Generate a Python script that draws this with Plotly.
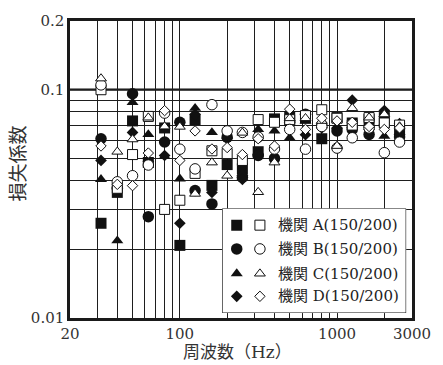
import numpy as np
import plotly.graph_objects as go

freq = [31.5, 40, 50, 63, 80, 100, 125, 160, 200, 250, 315, 400, 500, 630, 800, 1000, 1250, 1600, 2000, 2500]

A_150 = [0.026, 0.0355, 0.073, 0.048, 0.068, 0.0208, 0.074, 0.0381, 0.047, 0.045, 0.0535, 0.0745, 0.076, 0.075, 0.061, 0.0755, 0.0715, 0.074, 0.0755, 0.066]
A_200 = [0.1, 0.037, 0.052, 0.0764, 0.0299, 0.0328, 0.043, 0.054, 0.0525, 0.049, 0.074, 0.072, 0.0739, 0.077, 0.0817, 0.075, 0.07, 0.0755, 0.0715, 0.07]
B_150 = [0.061, 0.037, 0.096, 0.0278, 0.059, 0.072, 0.0362, 0.0316, 0.062, 0.0414, 0.0515, 0.05, 0.072, 0.078, 0.07, 0.066, 0.067, 0.0637, 0.07, 0.062]
B_200 = [0.105, 0.0395, 0.042, 0.0468, 0.079, 0.0549, 0.045, 0.086, 0.066, 0.065, 0.062, 0.055, 0.067, 0.0549, 0.069, 0.0555, 0.0616, 0.068, 0.053, 0.059]
C_150 = [0.0405, 0.0218, 0.088, 0.0637, 0.051, 0.0407, 0.083, 0.065, 0.063, 0.043, 0.067, 0.066, 0.0616, 0.073, 0.07, 0.069, 0.07, 0.07, 0.0626, 0.065]
C_200 = [0.112, 0.0535, 0.0606, 0.0755, 0.069, 0.0688, 0.035, 0.048, 0.042, 0.0648, 0.0356, 0.048, 0.075, 0.075, 0.073, 0.0567, 0.083, 0.0755, 0.078, 0.069]
D_150 = [0.049, 0.0375, 0.065, 0.0485, 0.0515, 0.026, 0.078, 0.0355, 0.061, 0.0405, 0.052, 0.05, 0.07, 0.0635, 0.068, 0.068, 0.09, 0.067, 0.081, 0.071]
D_200 = [0.0567, 0.0385, 0.038, 0.0528, 0.081, 0.049, 0.066, 0.055, 0.0558, 0.052, 0.061, 0.0567, 0.0822, 0.067, 0.075, 0.073, 0.072, 0.069, 0.067, 0.068]

labels = ["機関 A(150/200)", "機関 B(150/200)", "機関 C(150/200)", "機関 D(150/200)"]
filled = [A_150, B_150, C_150, D_150]
hollow = [A_200, B_200, C_200, D_200]
sym = ["square", "circle", "triangle-up", "diamond"]
size_f = [11, 11.5, 10.5, 9]
size_h = [10, 10.5, 9.5, 8]

x_ticks = [20, 30, 40, 50, 60, 70, 80, 90, 100, 200, 300, 400, 500, 600, 700, 800, 900, 1000, 2000, 3000]
x_labels = [str(v) if v in (20, 100, 1000, 3000) else "" for v in x_ticks]
y_ticks = [0.01, 0.02, 0.03, 0.04, 0.05, 0.06, 0.07, 0.08, 0.09, 0.1, 0.2]
y_labels = ["0.01", "", "", "", "", "", "", "", "", "0.1", "0.2"]

INK = "#111111"
GRID = "#1e1e1e"
SERIF = "DejaVu Serif, Noto Sans CJK JP"

fig = go.Figure()
for i in range(4):
    fig.add_trace(go.Scatter(x=freq, y=filled[i], mode="markers", showlegend=False,
                             marker=dict(symbol=sym[i], size=size_f[i], color=INK, line=dict(width=0))))
for i in range(4):
    fig.add_trace(go.Scatter(x=freq, y=hollow[i], mode="markers", showlegend=False,
                             marker=dict(symbol=sym[i], size=size_h[i], color="white",
                                         line=dict(width=1, color=INK))))

# custom legend on an inset axis
leg_rows = [0.84, 0.613, 0.377, 0.16]
for i in range(4):
    fig.add_trace(go.Scatter(x=[0.079], y=[leg_rows[i]], xaxis="x2", yaxis="y2", mode="markers", showlegend=False,
                             marker=dict(symbol=sym[i], size=size_f[i], color=INK, line=dict(width=0))))
    fig.add_trace(go.Scatter(x=[0.205], y=[leg_rows[i]], xaxis="x2", yaxis="y2", mode="markers", showlegend=False,
                             marker=dict(symbol=sym[i], size=size_h[i], color="white",
                                         line=dict(width=1, color=INK))))
    fig.add_annotation(x=0.295, y=leg_rows[i], xref="x2", yref="y2", text=labels[i], showarrow=False,
                       xanchor="left", yanchor="middle", font=dict(family=SERIF, size=15, color="#222"))

fig.add_shape(type="rect", xref="x2", yref="y2", x0=0, x1=1, y0=0, y1=1, layer="below",
              line=dict(color=INK, width=1.2), fillcolor="white")

ylog0, ylog1 = np.log10(0.01), np.log10(0.2)
y01 = (np.log10(0.1) - ylog0) / (ylog1 - ylog0)
fig.add_shape(type="line", xref="paper", yref="paper", x0=0, x1=1, y0=y01, y1=y01,
              line=dict(color=INK, width=2.2), layer="below")

axis_common = dict(showgrid=True, gridcolor=GRID, gridwidth=1.3, showline=True, mirror=True,
                   linecolor="#1a1a1a", linewidth=2.5, ticks="", zeroline=False,
                   tickfont=dict(family=SERIF, size=15, color="#333"))

fig.update_layout(
    width=443, height=365,
    margin=dict(l=70, r=20, t=17, b=47),
    paper_bgcolor="white", plot_bgcolor="white",
    font=dict(family=SERIF, size=15, color="#333"),
    xaxis=dict(type="log", range=[np.log10(20), np.log10(3000)], tickvals=x_ticks, ticktext=x_labels,
               **axis_common),
    yaxis=dict(type="log", range=[ylog0, ylog1], tickvals=y_ticks, ticktext=y_labels, **axis_common),
    xaxis2=dict(domain=[0.445, 0.983], range=[0, 1], anchor="y2", visible=False, fixedrange=True),
    yaxis2=dict(domain=[0.0166, 0.369], range=[0, 1], anchor="x2", visible=False, fixedrange=True),
)

fig.add_annotation(text="損失係数", xref="paper", yref="paper", x=(15 - 70) / 353, y=0.519, textangle=-90,
                   showarrow=False, xanchor="center", yanchor="middle",
                   font=dict(family="Noto Sans CJK JP", size=19, color="#333"))
fig.add_annotation(text="周波数（Hz）", xref="paper", yref="paper", x=0.49, y=(318 - 340) / 301,
                   showarrow=False, xanchor="center", yanchor="top",
                   font=dict(family=SERIF, size=17, color="#333"))

fig.write_html("out.html")
